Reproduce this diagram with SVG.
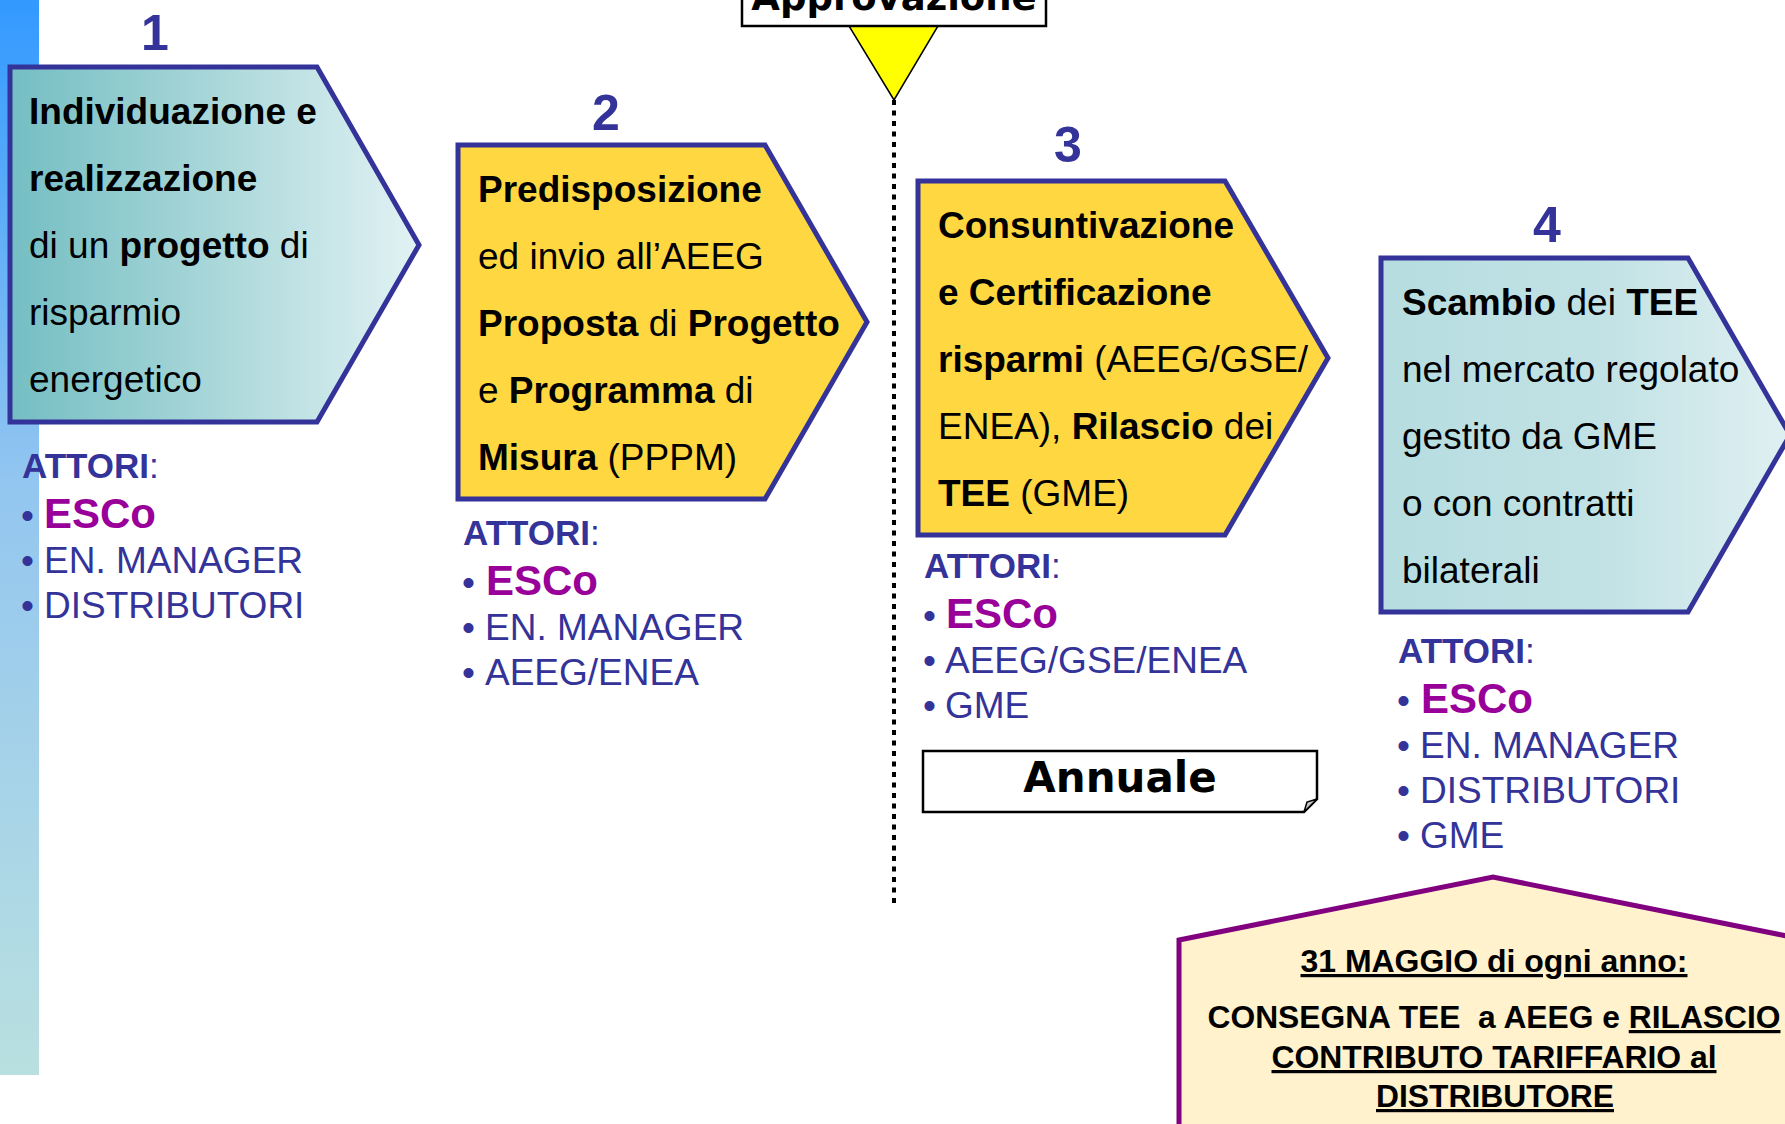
<svg xmlns="http://www.w3.org/2000/svg" width="1785" height="1124" viewBox="0 0 1785 1124">
<defs>
<linearGradient id="barGrad" x1="0" y1="0" x2="0" y2="1">
<stop offset="0" stop-color="#3399ff"/>
<stop offset="0.45" stop-color="#93c6f0"/>
<stop offset="1" stop-color="#b9e0e0"/>
</linearGradient>
<linearGradient id="tealDark" x1="0" y1="0" x2="1" y2="0">
<stop offset="0" stop-color="#74bec3"/>
<stop offset="0.5" stop-color="#a9d7d9"/>
<stop offset="1" stop-color="#e2f2f4"/>
</linearGradient>
<linearGradient id="tealLight" x1="0" y1="0" x2="1" y2="0">
<stop offset="0" stop-color="#b6dde0"/>
<stop offset="0.55" stop-color="#c2e2e5"/>
<stop offset="1" stop-color="#e0f0f2"/>
</linearGradient>
<style>
.shape{stroke:#333399;stroke-width:5;stroke-linejoin:miter}
.yel{fill:#ffd740}
.body{font-family:"Liberation Sans",Arial,sans-serif;font-size:37px;fill:#000}
.b{font-weight:bold}
.num{font-family:"Liberation Sans",Arial,sans-serif;font-size:50px;font-weight:bold;fill:#333399;text-anchor:middle}
.att{font-family:"Liberation Sans",Arial,sans-serif;font-size:35px;fill:#333399}
.item{font-family:"Liberation Sans",Arial,sans-serif;font-size:37px;fill:#333399}
.esco{font-family:"Liberation Sans",Arial,sans-serif;font-size:42px;font-weight:bold;fill:#990099}
.note{font-family:"Liberation Sans",Arial,sans-serif;font-size:32px;font-weight:bold;fill:#000;text-anchor:middle;white-space:pre}
.u{text-decoration:underline}
.dj{font-family:"DejaVu Sans",sans-serif;font-weight:bold;fill:#000}
</style>
</defs>
<rect width="1785" height="1124" fill="#ffffff"/>
<rect id="sidebar" x="0" y="0" width="39" height="1075" fill="url(#barGrad)"/>

<g id="connectors">
<line x1="894" y1="100" x2="894" y2="906" stroke="#000" stroke-width="4" stroke-dasharray="5 5.5"/>
</g>

<g id="approvazione">
<polygon points="849,26 938,26 894,100" fill="#ffff00" stroke="#000" stroke-width="1.5"/>
<rect x="742" y="-10" width="304" height="36" fill="#fff" stroke="#000" stroke-width="2.5"/>
<text class="dj" x="894" y="10" font-size="37" text-anchor="middle">Approvazione</text>
</g>

<g id="step1">
<text class="num" x="155" y="50">1</text>
<polygon class="shape" points="10,67 317,67 419,245 317,422 10,422" fill="url(#tealDark)"/>
<text class="body" x="29" y="124"><tspan class="b">Individuazione e</tspan></text>
<text class="body" x="29" y="191"><tspan class="b">realizzazione</tspan></text>
<text class="body" x="29" y="258">di un <tspan class="b">progetto</tspan> di</text>
<text class="body" x="29" y="325">risparmio</text>
<text class="body" x="29" y="392">energetico</text>
</g>

<g id="actors1">
<text class="att" x="22" y="478"><tspan class="b">ATTORI</tspan>:</text>
<text class="item" x="21" y="528">•</text><text class="esco" x="44" y="528">ESCo</text>
<text class="item" x="21" y="573">•</text><text class="item" x="44" y="573">EN. MANAGER</text>
<text class="item" x="21" y="618">•</text><text class="item" x="44" y="618">DISTRIBUTORI</text>
</g>

<g id="step2">
<text class="num" x="606" y="130">2</text>
<polygon class="shape yel" points="458,145 765,145 867,322 765,499 458,499"/>
<text class="body" x="478" y="202"><tspan class="b">Predisposizione</tspan></text>
<text class="body" x="478" y="269">ed invio all’AEEG</text>
<text class="body" x="478" y="336"><tspan class="b">Proposta</tspan> di <tspan class="b">Progetto</tspan></text>
<text class="body" x="478" y="403">e <tspan class="b">Programma</tspan> di</text>
<text class="body" x="478" y="470"><tspan class="b">Misura</tspan> (PPPM)</text>
</g>

<g id="actors2">
<text class="att" x="463" y="545"><tspan class="b">ATTORI</tspan>:</text>
<text class="item" x="462" y="595">•</text><text class="esco" x="486" y="595">ESCo</text>
<text class="item" x="462" y="640">•</text><text class="item" x="485" y="640">EN. MANAGER</text>
<text class="item" x="462" y="685">•</text><text class="item" x="485" y="685">AEEG/ENEA</text>
</g>

<g id="step3">
<text class="num" x="1068" y="162">3</text>
<polygon class="shape yel" points="918,181 1225,181 1328,358 1225,535 918,535"/>
<text class="body" x="938" y="238"><tspan class="b">Consuntivazione</tspan></text>
<text class="body" x="938" y="305"><tspan class="b">e Certificazione</tspan></text>
<text class="body" x="938" y="372"><tspan class="b">risparmi</tspan> (AEEG/GSE/</text>
<text class="body" x="938" y="439">ENEA), <tspan class="b">Rilascio</tspan> dei</text>
<text class="body" x="938" y="506"><tspan class="b">TEE</tspan> (GME)</text>
</g>

<g id="actors3">
<text class="att" x="924" y="578"><tspan class="b">ATTORI</tspan>:</text>
<text class="item" x="923" y="628">•</text><text class="esco" x="946" y="628">ESCo</text>
<text class="item" x="923" y="673">•</text><text class="item" x="945" y="673">AEEG/GSE/ENEA</text>
<text class="item" x="923" y="718">•</text><text class="item" x="945" y="718">GME</text>
</g>

<g id="annuale">
<path d="M923,751 H1317 V799 L1304,812 H923 Z" fill="#fff" stroke="#000" stroke-width="2.5"/>
<path d="M1304,812 L1307,802 L1317,799 Z" fill="#c8c8c8" stroke="#000" stroke-width="1.5"/>
<text class="dj" x="1120" y="792" font-size="42" text-anchor="middle">Annuale</text>
</g>

<g id="step4">
<text class="num" x="1547" y="242">4</text>
<polygon class="shape" points="1381,258 1688,258 1790,435 1688,612 1381,612" fill="url(#tealLight)"/>
<text class="body" x="1402" y="315"><tspan class="b">Scambio</tspan> dei <tspan class="b">TEE</tspan></text>
<text class="body" x="1402" y="382">nel mercato regolato</text>
<text class="body" x="1402" y="449">gestito da GME</text>
<text class="body" x="1402" y="516">o con contratti</text>
<text class="body" x="1402" y="583">bilaterali</text>
</g>

<g id="actors4">
<text class="att" x="1398" y="663"><tspan class="b">ATTORI</tspan>:</text>
<text class="item" x="1397" y="713">•</text><text class="esco" x="1421" y="713">ESCo</text>
<text class="item" x="1397" y="758">•</text><text class="item" x="1420" y="758">EN. MANAGER</text>
<text class="item" x="1397" y="803">•</text><text class="item" x="1420" y="803">DISTRIBUTORI</text>
<text class="item" x="1397" y="848">•</text><text class="item" x="1420" y="848">GME</text>
</g>

<g id="deadline">
<polygon points="1179,940 1493,877 1807,940 1807,1130 1179,1130" fill="#fff2cc" stroke="#800080" stroke-width="5"/>
<text class="note u" x="1494" y="972" textLength="387" lengthAdjust="spacingAndGlyphs">31 MAGGIO di ogni anno:</text>
<text class="note" x="1494" y="1028" textLength="573" lengthAdjust="spacingAndGlyphs">CONSEGNA TEE  a AEEG e <tspan class="u">RILASCIO</tspan></text>
<text class="note u" x="1494" y="1068" textLength="445" lengthAdjust="spacingAndGlyphs">CONTRIBUTO TARIFFARIO al</text>
<text class="note u" x="1495" y="1107" textLength="238" lengthAdjust="spacingAndGlyphs">DISTRIBUTORE</text>
</g>
</svg>
